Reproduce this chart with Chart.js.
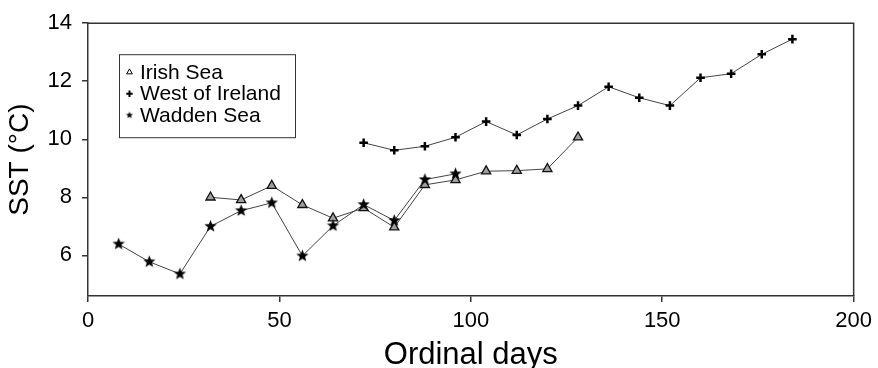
<!DOCTYPE html>
<html>
<head>
<meta charset="utf-8">
<script src="https://cdn.jsdelivr.net/npm/chart.js@4/dist/chart.umd.min.js"></script>
<style>
  html, body { margin: 0; padding: 0; background: #fff; }
</style>
</head>
<body>
<canvas id="sst" width="878" height="368"></canvas>
<script>
const irishDays = [32, 40, 48, 56, 64, 72, 80, 88, 96, 104, 112, 120, 128];
const irishSST = [8.0, 7.91, 8.4, 7.74, 7.28, 7.63, 6.97, 8.43, 8.6, 8.9, 8.92, 8.98, 10.07];
const westDays = [72, 80, 88, 96, 104, 112, 120, 128, 136, 144, 152, 160, 168, 176, 184];
const westSST = [9.88, 9.62, 9.76, 10.07, 10.61, 10.15, 10.7, 11.16, 11.81, 11.43, 11.16, 12.12, 12.26, 12.93, 13.45];
const waddenDays = [8, 16, 24, 32, 40, 48, 56, 64, 72, 80, 88, 96];
const waddenSST = [6.39, 5.78, 5.36, 7.0, 7.54, 7.81, 5.98, 7.02, 7.75, 7.2, 8.61, 8.81];
const xTicks = [0, 50, 100, 150, 200];
const yTicks = [6, 8, 10, 12, 14];

const pts = (xs, ys) => xs.map((x, i) => ({ x: x, y: ys[i] }));

// filled five-point star as a little canvas, used as a point style
function starImage(r) {
  const c = document.createElement('canvas');
  const s = Math.ceil(r * 2 + 2);
  c.width = s; c.height = s;
  const g = c.getContext('2d');
  g.translate(s / 2, s / 2);
  g.beginPath();
  for (let i = 0; i < 10; i++) {
    const rr = i % 2 ? r * 0.42 : r;
    const a = -Math.PI / 2 + i * Math.PI / 5;
    g.lineTo(rr * Math.cos(a), rr * Math.sin(a));
  }
  g.closePath();
  g.fillStyle = '#000';
  g.fill();
  return c;
}
const bigStar = starImage(6.5);
const smallStar = starImage(3.8);

Chart.defaults.font.family = '"Liberation Sans", Arial, Helvetica, sans-serif';
Chart.defaults.color = '#000';

const frame = {
  id: 'frame',
  beforeDatasetsDraw(chart) {
    const { ctx, chartArea: a } = chart;
    ctx.save();
    ctx.strokeStyle = '#333';
    ctx.lineWidth = 1.5;
    ctx.beginPath();
    ctx.moveTo(a.left, a.top);
    ctx.lineTo(a.right, a.top);
    ctx.lineTo(a.right, a.bottom);
    ctx.stroke();
    ctx.restore();
  }
};

const legendBox = {
  id: 'legendBox',
  afterDraw(chart) {
    const { ctx, chartArea: a } = chart;
    const x0 = a.left + 31, y0 = a.top + 31;
    ctx.save();
    ctx.strokeStyle = '#333';
    ctx.lineWidth = 1;
    ctx.strokeRect(x0 + 0.5, y0 + 0.5, 176, 83);
    ctx.font = '21px "Liberation Sans", Arial, Helvetica, sans-serif';
    ctx.textBaseline = 'middle';
    ctx.textAlign = 'left';
    chart.data.datasets.forEach((ds, i) => {
      const y = y0 + 18 + i * 21.5;
      const mx = x0 + 10.5;
      if (ds.pointStyle === 'triangle') {
        ctx.fillStyle = '#fff';
        ctx.strokeStyle = '#000';
        ctx.lineWidth = 1;
        Chart.helpers.drawPoint(ctx, { pointStyle: 'triangle', radius: 3.3, borderWidth: 1, rotation: 0 }, mx, y);
      } else if (ds.pointStyle === 'cross') {
        ctx.strokeStyle = '#000';
        ctx.lineWidth = 2;
        Chart.helpers.drawPoint(ctx, { pointStyle: 'cross', radius: 3.2, borderWidth: 2, rotation: 0 }, mx, y);
      } else {
        ctx.drawImage(smallStar, mx - smallStar.width / 2, y - smallStar.height / 2);
      }
      ctx.fillStyle = '#000';
      ctx.fillText(ds.label, x0 + 21, y + 1);
    });
    ctx.restore();
  }
};

new Chart(document.getElementById('sst'), {
  type: 'line',
  data: {
    datasets: [{
      label: 'Irish Sea',
      data: pts(irishDays, irishSST),
      borderColor: '#444',
      borderWidth: 1,
      pointStyle: 'triangle',
      pointRadius: 5.3,
      pointBackgroundColor: '#a0a0a0',
      pointBorderColor: '#111',
      pointBorderWidth: 1.3,
      order: 2
    }, {
      label: 'West of Ireland',
      data: pts(westDays, westSST),
      borderColor: '#444',
      borderWidth: 1,
      pointStyle: 'cross',
      pointRadius: 4.3,
      pointBorderColor: '#000',
      pointBorderWidth: 2.5,
      order: 1
    }, {
      label: 'Wadden Sea',
      data: pts(waddenDays, waddenSST),
      borderColor: '#444',
      borderWidth: 1,
      pointStyle: bigStar,
      order: 0
    }]
  },
  options: {
    responsive: false,
    animation: false,
    layout: { padding: { top: 23, right: 23, left: 0, bottom: 0 } },
    plugins: {
      legend: { display: false },
      tooltip: { enabled: false }
    },
    scales: {
      x: {
        type: 'linear',
        min: 0,
        max: 200,
        afterBuildTicks: s => { s.ticks = xTicks.map(v => ({ value: v })); },
        afterFit: s => { s.height = 72; },
        grid: { drawOnChartArea: false, tickLength: 6, color: '#333', lineWidth: 1.5 },
        border: { color: '#333', width: 1.5 },
        ticks: { font: { size: 22 }, color: '#000', padding: 6, autoSkip: false, maxRotation: 0 },
        title: { display: true, text: 'Ordinal days', font: { size: 31, lineHeight: 0.8 }, padding: 0, color: '#000' }
      },
      y: {
        min: 4.6,
        max: 14,
        afterBuildTicks: s => { s.ticks = yTicks.map(v => ({ value: v })); },
        afterFit: s => { s.width = 88; },
        grid: { drawOnChartArea: false, tickLength: 6, color: '#333', lineWidth: 1.5 },
        border: { color: '#333', width: 1.5 },
        ticks: { font: { size: 22 }, color: '#000', padding: 10 },
        title: { display: true, text: 'SST (°C)', font: { size: 28, lineHeight: 1 }, padding: { top: 6, bottom: 0 }, color: '#000' }
      }
    }
  },
  plugins: [frame, legendBox]
});
</script>
</body>
</html>
